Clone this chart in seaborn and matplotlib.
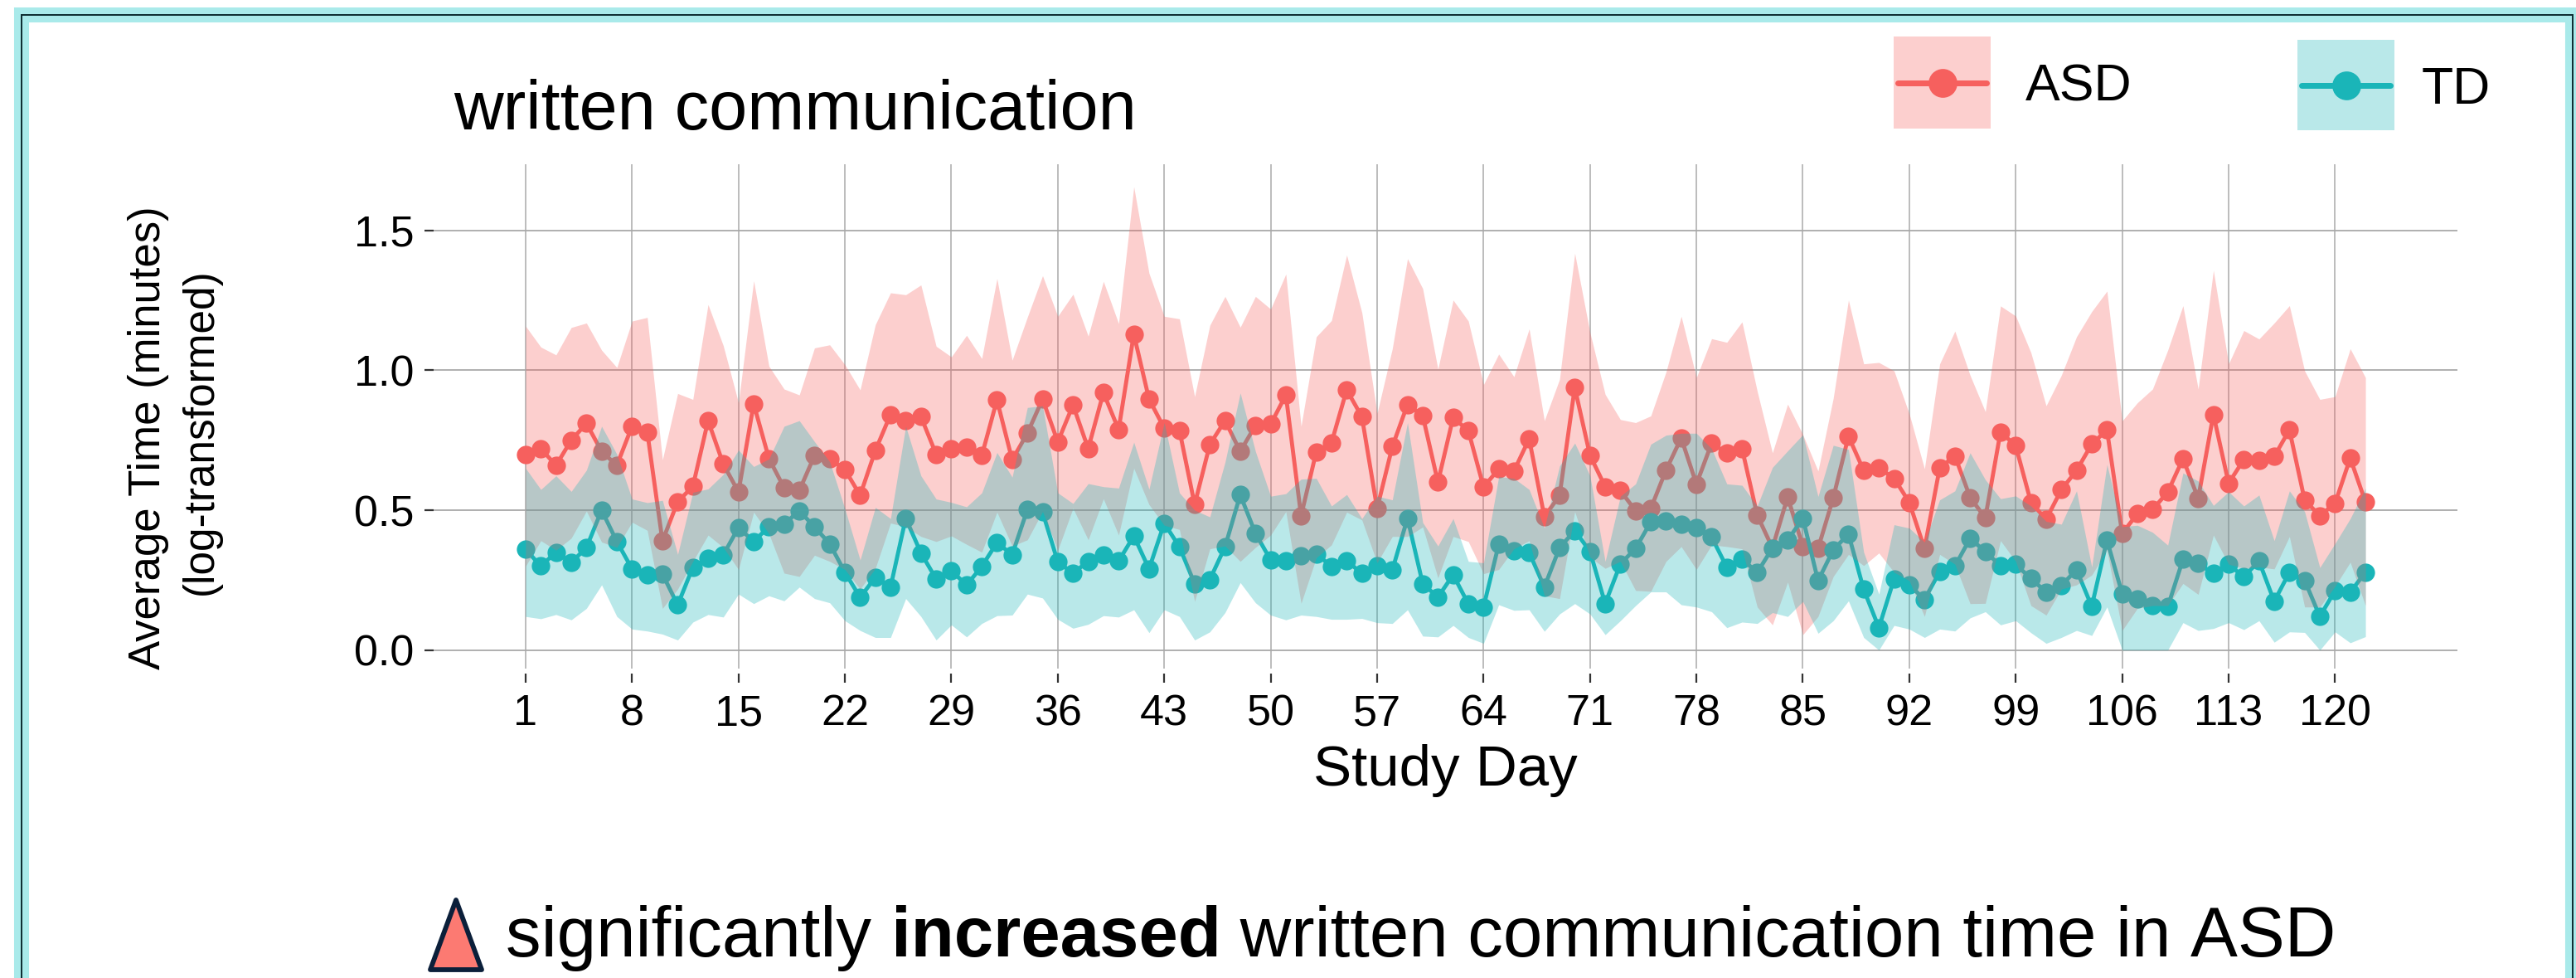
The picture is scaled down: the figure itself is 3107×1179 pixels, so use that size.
import numpy as np
import pandas as pd
import seaborn as sns
import matplotlib
matplotlib.use("Agg")
import matplotlib.pyplot as plt
from matplotlib.patches import Rectangle, Polygon
from matplotlib.lines import Line2D

days = list(range(1, 123))
asd_mean = [.70,.72,.66,.75,.81,.71,.66,.80,.78,.39,.53,.585,.82,.665,.565,.88,.685,.58,.57,.695,.685,.645,.553,.713,.842,.82,
 .834,.70,.72,.725,.695,.894,.68,.775,.897,.744,.876,.72,.92,.788,1.129,.897,.793,.786,.52,.735,.82,.71,.803,.807,.912,.48,.709,.741,.93,.834,.506,.727,.878,.838,.60,.831,.784,.583,.647,.64,.755,.477,.552,.938,.696,.584,.57,.498,.506,.643,.758,.593,.739,.704,
 .72,.482,.365,.547,.371,.363,.544,.764,.642,.651,.614,.528,.363,.651,.694,.546,.472,.78,.73,.528,.467,.573,.642,.736,.787,.417,.487,.502,.565,.684,.542,.842,.596,.681,.678,.692,.787,.536,.48,.524,.686,.529]
td_mean = [.36,.30,.35,.313,.366,.50,.388,.29,.27,.272,.161,.296,.329,.34,.438,.388,.441,.45,.498,.44,.38,
 .278,.188,.26,.225,.471,.347,.254,.284,.232,.299,.384,.341,.502,.493,.315,.275,.317,.34,.318,.408,.29,.453,.369,.237,.252,.369,.555,.417,.322,.32,.337,.344,.299,.319,.274,.30,.286,.471,.237,.189,.269,.165,.154,.378,.356,.349,.225,.366,.427,.353,.166,.308,.363,.458,.463,.45,.438,.404,.296,
 .326,.277,.365,.393,.471,.248,.358,.415,.217,.08,.254,.233,.181,.28,.30,.399,.352,.301,.306,.256,.207,.231,.287,.156,.393,.202,.182,.158,.155,.324,.309,.274,.306,.262,.318,.174,.278,.249,.12,.212,.207,.278]
asd_upper = [1.158,1.083,1.055,1.153,1.169,1.072,1.01,1.176,1.189,.68,.917,.896,1.235,1.088,.884,1.32,1.015,.933,.912,1.08,1.091,
 1.02,.93,1.163,1.277,1.27,1.305,1.086,1.048,1.125,1.042,1.328,1.036,1.19,1.338,1.193,1.272,1.122,1.318,1.167,1.656,1.347,1.193,1.184,.906,1.161,1.264,1.154,1.264,1.219,1.344,.80,1.12,1.178,1.412,1.206,.846,1.077,1.399,1.292,1.004,1.251,1.176,.949,1.058,.977,1.148,.82,.968,1.418,1.135,.914,.824,.813,.837,.994,1.193,.974,1.113,1.10,
 1.173,.925,.705,.879,.77,.64,.90,1.251,1.023,1.028,.998,.844,.648,1.023,1.14,.982,.852,1.23,1.194,1.063,.873,.982,1.12,1.21,1.283,.819,.884,.933,1.072,1.231,.933,1.357,1.023,1.142,1.112,1.169,1.231,.998,.896,.906,1.077,.974]
asd_lower = [.30,.391,.357,.40,.497,.386,.367,.457,.428,.149,.218,.317,.411,.367,.288,.493,.416,.275,.263,.339,.317,.288,.218,.292,.454,.441,
 .406,.388,.408,.378,.35,.493,.372,.394,.495,.357,.507,.394,.541,.411,.65,.52,.446,.431,.174,.362,.372,.317,.367,.411,.495,.167,.33,
 .376,.493,.465,.312,.406,.406,.44,.258,.406,.388,.273,.288,.362,.391,.194,.184,.495,.332,.292,.317,.213,.21,.317,.37,.288,
 .376,.37,.362,.154,.09,.243,.055,.12,.263,.342,.302,.347,.278,.248,.12,.342,.307,.166,.167,.391,.317,.159,.125,.218,.233,.268,.357,.07,.149,.159,.159,.238,.199,.411,.307,.292,.297,.29,.406,.154,.154,.228,.314,.159]
td_upper = [.65,.574,.623,.567,.643,.80,.70,.54,.527,.535,.342,.564,.576,.628,.715,.656,.683,.80,.82,.745,.673,.505,.322,.51,.47,.80,
 .623,.54,.528,.512,.562,.706,.618,.867,.873,.562,.524,.595,.584,.579,.743,.575,.813,.562,.50,.476,.672,.919,.71,.55,.559,.611,.614,.515,.556,.47,.55,.537,.813,.456,.372,.47,
 .317,.312,.62,.614,.574,.436,.658,.74,.623,.317,.55,.594,.736,.768,.775,.775,
 .72,.594,.589,.515,.653,.712,.77,.549,.732,.717,.35,.2,.448,.436,.386,.537,.569,.705,.609,.541,.551,.515,.46,.45,.569,.297,.663,.441,.446,.421,.375,.633,.604,.517,.566,.515,.554,.391,.569,.495,.295,.381,.47,.579]
td_lower = [.12,.112,.127,.108,.149,.233,.12,.075,.068,.057,.036,.10,.127,.118,.2,.166,.194,.176,.225,.184,.169,.105,.07,.045,.045,.184,
 .12,.036,.09,.047,.095,.123,.125,.2,.186,.11,.078,.092,.123,.118,.144,.062,.144,.12,.036,.065,.134,.241,.169,.125,.108,.125,.12,
 .11,.11,.113,.098,.095,.144,.05,.047,.088,.045,.024,.162,.142,.144,.067,.129,.166,.129,.055,.105,.159,.208,.208,.162,.154,.137,
 .08,.1,.095,.134,.12,.174,.06,.105,.176,.045,.0,.088,.075,.045,.075,.068,.115,.137,.09,.105,.062,.024,.045,.07,.052,.154,
 0,0,0,0,.098,.07,.077,.098,.073,.105,.028,.065,.063,0,.065,.026,.048]
x_ticks = list(range(1, 121, 7))
y_ticks = [0.0, 0.5, 1.0, 1.5]
groups = ["ASD", "TD"]

for a in (asd_mean, td_mean, asd_upper, asd_lower, td_upper, td_lower):
    assert len(a) == len(days), len(a)

RED = "#F6605E"
TEAL = "#1AB5B8"
W, H = 3107, 1179
sns.set_theme(style="white")
plt.rcParams["font.family"] = ["Liberation Sans", "DejaVu Sans"]
fig = plt.figure(figsize=(W / 100, H / 100), dpi=100, facecolor="white")
fx = lambda p: p / W
fy = lambda p: 1 - p / H
ax = fig.add_axes([fx(523), fy(812), fx(2964 - 523), (812 - 197.5) / H])

df = pd.DataFrame({
    "day": days * 2,
    "value": asd_mean + td_mean,
    "group": [groups[0]] * len(days) + [groups[1]] * len(days),
})
sns.lineplot(data=df, x="day", y="value", hue="group", hue_order=groups,
             palette=[RED, TEAL], marker="o", markersize=16, markeredgewidth=0,
             linewidth=3.5, errorbar=None, legend=False, ax=ax, zorder=3)
ax.fill_between(days, asd_lower, asd_upper, color=RED, alpha=0.3, lw=0, zorder=4)
ax.fill_between(days, td_lower, td_upper, color=TEAL, alpha=0.3, lw=0, zorder=5)

ax.set_xlim(-5.05, 128.05)
ax.set_ylim(-0.084, 1.738)
ax.set_xticks(x_ticks)
ax.set_yticks(y_ticks)
ax.set_yticklabels(["0.0", "0.5", "1.0", "1.5"])
ax.grid(False)
ax.hlines(y_ticks, -5.05, 128.05, color="#A9A9A9", lw=1.3, zorder=1)
ax.vlines(x_ticks, -0.066, 1.738, color="#A9A9A9", lw=1.1, zorder=1)
for s in ax.spines.values():
    s.set_visible(False)
ax.set_xlabel("")
ax.set_ylabel("")
ax.tick_params(axis="x", length=8, width=1.6, color="#333333", labelsize=37.5, pad=9.5, bottom=True, labelcolor="black")
ax.tick_params(axis="y", length=8, width=1.6, color="#333333", labelsize=37.5, pad=9, left=True, labelcolor="black")

fig.text(fx(547), fy(156), "written communication", fontsize=59.6, color="black", va="baseline", ha="left")
fig.text(fx(1743), fy(947), "Study Day", fontsize=49.8, color="black", va="baseline", ha="center")
fig.text(fx(179), fy(528), "Average Time (minutes)", fontsize=38, rotation=90, va="center", ha="center", color="black")
fig.text(fx(242), fy(520), "(log-transformed)", fontsize=37, rotation=90, va="center", ha="center", color="black")

# legend keys
for (l, r, t, b, yl, c, lab, tx, bl) in [
    (2284, 2401, 44, 155, 100, RED, groups[0], 2443, 122),
    (2771, 2888, 48, 157, 103, TEAL, groups[1], 2921, 125),
]:
    fig.add_artist(Rectangle((fx(l), fy(b)), fx(r - l), (b - t) / H, transform=fig.transFigure,
                             facecolor=c, alpha=0.3, edgecolor="none"))
    fig.add_artist(Line2D([fx(l + 5), fx(r - 5)], [fy(yl), fy(yl)], transform=fig.transFigure,
                          color=c, lw=7 * 0.72, marker=None))
    fig.add_artist(Line2D([fx((l + r) / 2)], [fy(yl)], transform=fig.transFigure, color=c,
                          marker="o", markersize=25, markeredgewidth=0, ls="none"))
    fig.text(fx(tx), fy(bl), lab, fontsize=45, color="black", va="baseline", ha="left")

# frame
for lw, col in [(13, "#A9EAEA"), (1.4, "#0B2A2E")]:
    fig.add_artist(Rectangle((fx(26), fy(1250)), fx(3103 - 26), (1250 - 18) / H, transform=fig.transFigure,
                             facecolor="none", edgecolor=col, lw=lw))

# annotation
fig.add_artist(Polygon([(fx(519), fy(1169)), (fx(581), fy(1169)), (fx(550), fy(1085))], closed=True,
                       transform=fig.transFigure, facecolor="#FC7A72", edgecolor="#0B1F3A", lw=4.2, joinstyle="round"))
parts = [("significantly ", "normal"), ("increased", "bold"), (" written communication time in ASD", "normal")]
r = fig.canvas.get_renderer()
cur = 610
for s, w in parts:
    t = fig.text(fx(cur), fy(1153), s.replace(" ", "\u00a0"), fontsize=61.4, fontweight=w, color="black", va="baseline", ha="left")
    cur += t.get_window_extent(r).width

fig.savefig("out.png", dpi=100, facecolor="white")
